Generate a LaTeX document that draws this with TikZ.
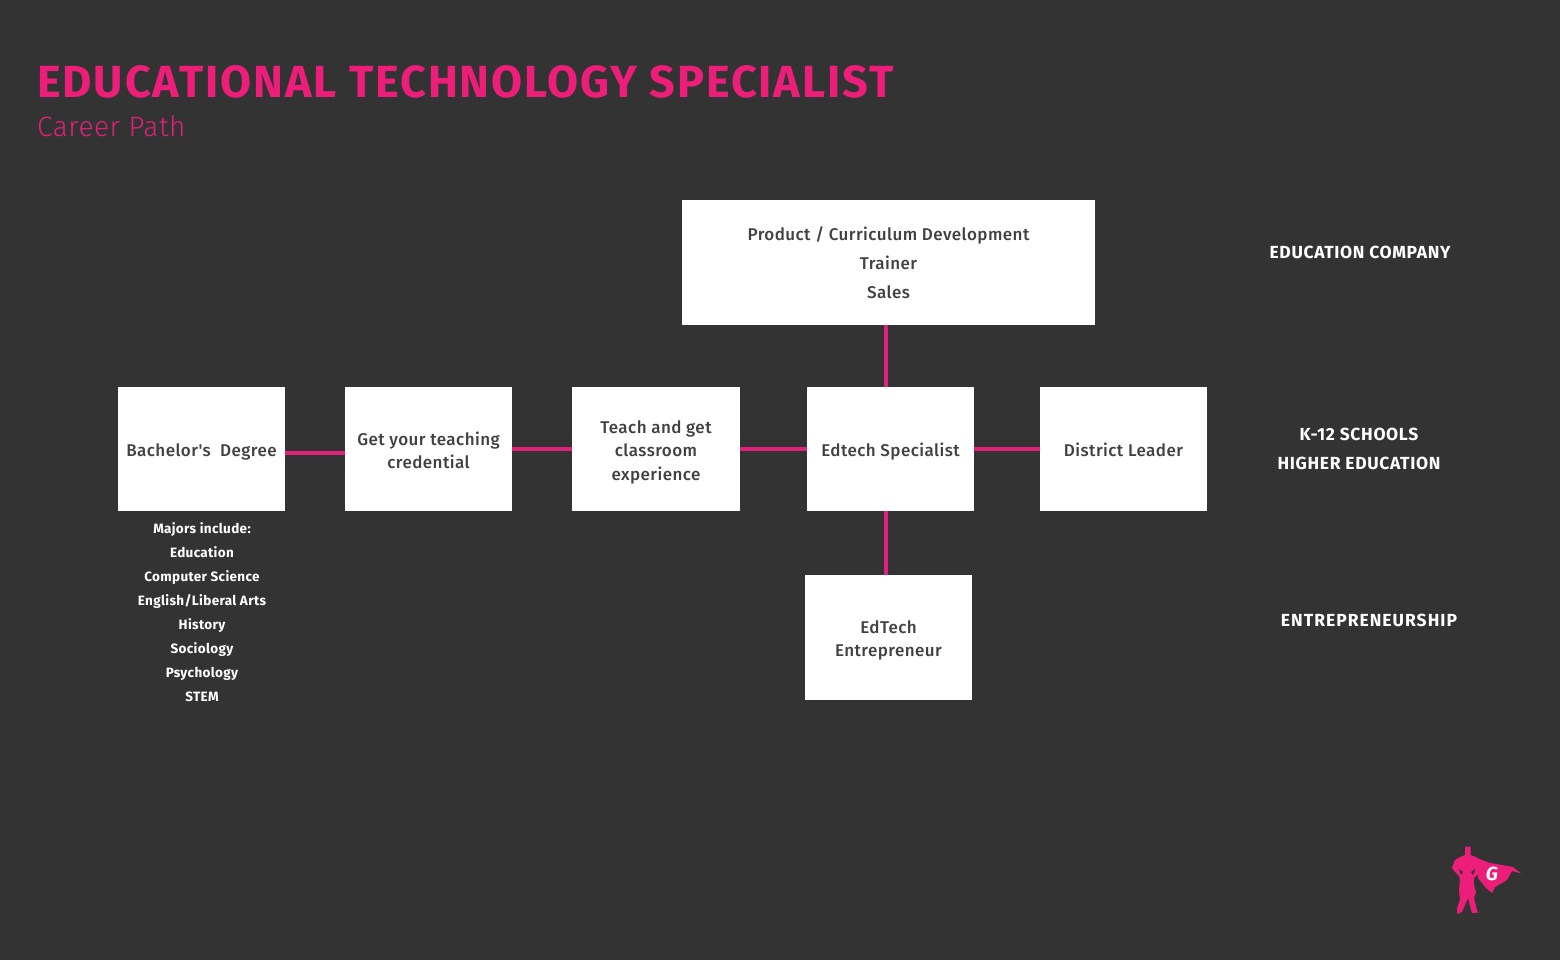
\documentclass[tikz,border=0pt]{standalone}
\usepackage{fontspec}
\setmainfont{Fira Sans}
\newfontfamily\boxfont[LetterSpace=2.6]{Fira Sans Medium}
\newfontfamily\sidefont[LetterSpace=3.7]{Fira Sans}
\newfontfamily\sidewide[LetterSpace=5.8]{Fira Sans}
\newfontfamily\majfont[LetterSpace=2.5]{Fira Sans}
\newfontfamily\titlefont[LetterSpace=4.2]{Fira Sans}
\newfontfamily\lightfont[LetterSpace=2]{Fira Sans Light}
\definecolor{bgc}{HTML}{333333}
\definecolor{pinkc}{HTML}{ED1E79}
\definecolor{linkc}{HTML}{E0207A}
\definecolor{inkc}{HTML}{414042}
\newcommand{\lift}[1]{\rule{0pt}{#1pt}}
\tikzset{
  x=1pt,y=-1pt,
  card/.style={fill=white,draw=none,inner sep=0pt,align=center,text=inkc,font=\boxfont\fontsize{17}{23.4}\selectfont},
  link/.style={draw=linkc,line width=4pt},
  side/.style={text=white,align=center,inner sep=0pt,font=\sidefont\bfseries\fontsize{17.5}{29}\selectfont},
  majors/.style={text=white,align=center,inner sep=0pt,font=\majfont\bfseries\fontsize{13.5}{24}\selectfont},
}
\begin{document}
\begin{tikzpicture}
\fill[bgc] (0,0) rectangle (1560,960);
\useasboundingbox (0,0) rectangle (1560,960);
\node[anchor=base west,inner sep=0pt,text=pinkc,font=\titlefont\bfseries\fontsize{45}{50}\selectfont] (title) at (37,98) {EDUCATIONAL TECHNOLOGY SPECIALIST};
\node[anchor=base west,inner sep=0pt,text=linkc,font=\lightfont\fontsize{28}{32}\selectfont] (sub) at (37,137) {Career Path};
\node[card,minimum width=413pt,minimum height=125pt,font=\boxfont\fontsize{17}{29}\selectfont] (prod) at (888.5,262.5) {Product / Curriculum Development\\Trainer\\Sales};
\node[card,minimum width=167pt,minimum height=124pt] (ba) at (201.5,449) {\lift{19}Bachelor's\ \ Degree};
\node[card,minimum width=167pt,minimum height=124pt] (cred) at (428.5,449) {\lift{16}Get your teaching\\credential};
\node[card,minimum width=168pt,minimum height=124pt] (teach) at (656,449) {\lift{19}Teach and get\\classroom\\experience};
\node[card,minimum width=167pt,minimum height=124pt] (spec) at (890.5,449) {\lift{19}Edtech Specialist};
\node[card,minimum width=167pt,minimum height=124pt] (dist) at (1123.5,449) {\lift{15}District Leader};
\node[card,minimum width=167pt,minimum height=125pt] (entr) at (888.5,637.5) {\lift{19}EdTech\\Entrepreneur};
\coordinate (baout) at (285,452.5);
\coordinate (credin) at (345,452.5);
\coordinate (prodout) at (886,325);
\coordinate (specup) at (886,387);
\coordinate (specdn) at (886,511);
\coordinate (entrin) at (886,575);
\draw[link] (baout) -- (credin);
\draw[link] (cred.east) -- (teach.west);
\draw[link] (teach.east) -- (spec.west);
\draw[link] (spec.east) -- (dist.west);
\draw[link] (prodout) -- (specup);
\draw[link] (specdn) -- (entrin);
\node[majors] (maj) at (202,612) {Majors include:\\Education\\Computer Science\\English/Liberal Arts\\History\\Sociology\\Psychology\\STEM};
\node[side] (s1) at (1360,252) {EDUCATION COMPANY};
\node[side] (s2) at (1359,449) {K-12 SCHOOLS\\HIGHER EDUCATION};
\node[side,font=\sidewide\bfseries\fontsize{17.5}{29}\selectfont] (s3) at (1369,620) {ENTREPRENEURSHIP};
% logo: cape
\fill[pinkc] (1477,858) -- (1490,863) -- (1502,865) -- (1513,867) -- (1521,873.5) -- (1512,871) -- (1507,880) -- (1495,887) -- (1492,893) -- (1485,887) -- (1478,878) -- cycle;
% logo: figure
\fill[pinkc] (1465,846.5) -- (1470.5,846.5) -- (1470.5,855) -- (1476,857) -- (1479,860) -- (1480,868) -- (1478,874) -- (1474,878) -- (1474,885) -- (1476,892) -- (1474,898) -- (1476,906) -- (1477,911) -- (1479,912.5) -- (1472,913) -- (1470,906) -- (1468,898) -- (1465,905) -- (1462,912) -- (1457,914) -- (1457,908) -- (1460,900) -- (1459,890) -- (1460,880) -- (1459,876) -- (1456,873) -- (1452,868) -- (1455,860) -- (1460,857) -- (1465,855) -- cycle;
\fill[bgc] (1459,869) -- (1461,875) -- (1463,872) -- cycle;
\fill[bgc] (1475,869) -- (1473,875) -- (1471,872) -- cycle;
\node[inner sep=0pt,text=white,font=\bfseries\itshape\fontsize{19}{19}\selectfont] (g) at (1492,874) {G};
\end{tikzpicture}
\end{document}
